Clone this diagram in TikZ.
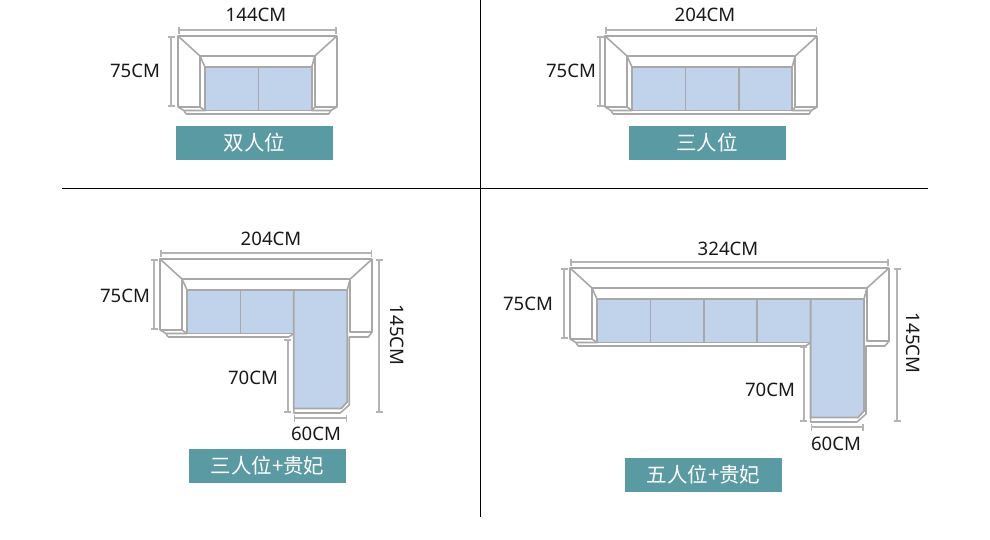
\documentclass[tikz,border=0pt]{standalone}
\usepackage{fontspec}
\setmainfont{Noto Sans}
\newfontfamily\cjk{Noto Sans CJK SC}
\usetikzlibrary{calc}
\usetikzlibrary{arrows.meta}
\definecolor{SofaLine}{HTML}{A8A8A8}
\definecolor{SofaSeat}{HTML}{C0D3EB}
\definecolor{DimLine}{HTML}{B4B4B4}
\definecolor{LabelTeal}{HTML}{5A9AA3}
\tikzset{
	sofaline/.style={SofaLine,line width=1.6pt,line join=round},
	seatbox/.style={draw=SofaLine,fill=SofaSeat,line width=1.8pt},
	dimline/.style={DimLine,line width=2pt,{Bar[width=7pt,line width=1.6pt]}-{Bar[width=7pt,line width=1.6pt]}},
	dimtext/.style={inner sep=0,text=black!90,font=\fontsize{18.6}{20}\selectfont},
	seatlabel/.style={fill=LabelTeal,text=white,inner sep=0,minimum width=157pt,minimum height=34pt,font=\fontsize{20.5}{22}\selectfont\cjk}
}
% back, arms and seat row shared by both sofas: #1 name, #2 x, #3 y, #4 seats
\newcommand\SofaBack[4]{
	\pgfmathsetmacro\SeatW{53.4}
	\pgfmathsetmacro\SofaR{#2+52+\SeatW*#4}
	\pgfmathsetmacro\SeatL{#2+27}
	\pgfmathsetmacro\SeatR{\SeatL+\SeatW*#4}
	\pgfmathsetmacro\InL{#2+22}
	\pgfmathsetmacro\InR{\SofaR-22}
	\pgfmathsetmacro\BackY{#3+20}
	\pgfmathsetmacro\SeatY{#3+31}
	\pgfmathsetmacro\ArmY{#3+71}
	\pgfmathsetmacro\FootY{#3+74.5}
	\pgfmathsetmacro\BaseY{#3+78}
	
	\coordinate (#1NW) at (#2,#3);
	\coordinate (#1NE) at (\SofaR,#3);
	\coordinate (#1SW) at (#2,\ArmY);
	
	\draw[sofaline] (#2,\ArmY) -- (#1NW) -- (#1NE);
	\draw[sofaline] (#1NW) -- (\InL,\BackY) -- (\InR,\BackY) -- (#1NE);
	\draw[sofaline] (\InL,\ArmY) -- (\InL,\BackY) -- (\SeatL,\SeatY);
	\draw[sofaline] (\InR,\BackY) -- (\SeatR,\SeatY);
	\draw[sofaline] (#1SW) -- (\InL,\ArmY) -- (\SeatL,\FootY);
	\draw[sofaline] (#1SW) -- ({#2+6},\FootY) -- (\SeatL,\FootY);
	\draw[sofaline] ({#2+6},\FootY) -- ({#2+8},\BaseY);
}
% two or three seats, straight base
\newcommand\StraightSofa[4]{
	\SofaBack{#1}{#2}{#3}{#4}
	\draw[sofaline] (#1NE) -- (\SofaR,\ArmY) -- (\InR,\ArmY) -- (\InR,\BackY);
	\draw[sofaline] (\InR,\ArmY) -- (\SeatR,\FootY) -- ({\SofaR-6},\FootY) -- (\SofaR,\ArmY);
	\draw[sofaline] ({#2+8},\BaseY) -- ({\SofaR-8},\BaseY) -- ({\SofaR-6},\FootY);
	\foreach \seat in {1,...,#4}{
		\draw[seatbox] ({\SeatL+(\seat-1)*\SeatW},\SeatY) rectangle ({\SeatL+\seat*\SeatW},\FootY);
	}
}
% seat row with a long chaise as the last seat
\newcommand\ChaiseSofa[4]{
	\SofaBack{#1}{#2}{#3}{#4}
	\pgfmathsetmacro\ChaiseL{\SeatR-\SeatW}
	\pgfmathsetmacro\ChaiseY{#3+149.5}
	\pgfmathsetmacro\ChaiseB{#3+154}
	\coordinate (#1CW) at (\ChaiseL,\ChaiseB);
	\coordinate (#1CE) at (\SeatR,\ChaiseB);
	
	\draw[sofaline] (#1NE) -- (\SofaR,{#3+73}) -- (\InR,{#3+73}) -- (\InR,\BackY);
	\draw[sofaline] (\SofaR,{#3+73}) -- ({\SofaR-4},\BaseY) -- ({\SeatR+2},\BaseY) -- ({\SeatR+2},{#3+146}) -- ({\SeatR-7},\ChaiseB) -- (\ChaiseL,\ChaiseB) -- (\ChaiseL,\ChaiseY);
	\draw[sofaline] ({#2+8},\BaseY) -- ({\ChaiseL-5},\BaseY) -- (\ChaiseL,\FootY);
	\pgfmathtruncatemacro\SeatN{#4-1}
	\foreach \seat in {1,...,\SeatN}{
		\draw[seatbox] ({\SeatL+(\seat-1)*\SeatW},\SeatY) rectangle ({\SeatL+\seat*\SeatW},\FootY);
	}
	\draw[seatbox] (\ChaiseL,\SeatY) -- (\SeatR,\SeatY) -- (\SeatR,{#3+143}) -- ({\SeatR-6},\ChaiseY) -- (\ChaiseL,\ChaiseY) -- cycle;
}
\begin{document}
\begin{tikzpicture}[x=1pt,y=-1pt]
	\useasboundingbox (0,0) rectangle (990,539);
	
	%% DIVIDERS
	\coordinate (DivTop) at (480,0);
	\coordinate (DivBot) at (480,517);
	\coordinate (DivLeft) at (62,188);
	\coordinate (DivRight) at (928,188);
	\draw[black,line width=0.9pt] (DivTop) -- (DivBot);
	\draw[black,line width=0.9pt] (DivLeft) -- (DivRight);
	
	%% TWO SEATS
	\StraightSofa{a}{178}{36}{2}
	\draw[dimline] ([yshift=6pt]aNW) -- ([yshift=6pt]aNE);
	\draw[dimline] ([xshift=-7pt]aNW) -- ([xshift=-7pt]aSW);
	\node[dimtext] (aWidth) at (256,15) {144CM};
	\node[dimtext] (aDepth) at (135,71) {75CM};
	\node[seatlabel] (aLabel) at (254.5,143) {双人位};
	
	%% THREE SEATS
	\StraightSofa{b}{605}{36}{3}
	\draw[dimline] ([yshift=6pt]bNW) -- ([yshift=6pt]bNE);
	\draw[dimline] ([xshift=-5pt]bNW) -- ([xshift=-5pt]bSW);
	\node[dimtext] (bWidth) at (705,15) {204CM};
	\node[dimtext] (bDepth) at (571,71) {75CM};
	\node[seatlabel] (bLabel) at (707,143) {三人位};
	
	%% THREE SEATS WITH CHAISE
	\ChaiseSofa{c}{160}{259}{3}
	\coordinate (cEast) at ($(cNE)+(7,0)$);
	\draw[dimline] ([yshift=6pt]cNW) -- ([yshift=6pt]cNE);
	\draw[dimline] ([xshift=-6pt]cNW) -- ([xshift=-6pt]cSW);
	\draw[dimline] (cEast) -- (cEast|-cCE);
	\draw[dimline] ([xshift=-6pt,yshift=74pt]cCW) -- ([xshift=-6pt]cCW);
	\draw[dimline] ([yshift=-5pt]cCW) -- ([yshift=-5pt]cCE);
	\node[dimtext] (cWidth) at (271,239) {204CM};
	\node[dimtext] (cDepth) at (125,296) {75CM};
	\node[dimtext] (cArm) at (253,378) {70CM};
	\node[dimtext] (cChaise) at (316,434) {60CM};
	\node[dimtext,rotate=-90] (cLong) at (397,335) {145CM};
	\node[seatlabel] (cLabel) at (267.5,466) {三人位+贵妃};
	
	%% FIVE SEATS WITH CHAISE
	\ChaiseSofa{d}{570}{268}{5}
	\coordinate (dEast) at ($(dNE)+(8,0)$);
	\draw[dimline] ([yshift=6pt]dNW) -- ([yshift=6pt]dNE);
	\draw[dimline] ([xshift=-6pt]dNW) -- ([xshift=-6pt]dSW);
	\draw[dimline] (dEast) -- (dEast|-dCE);
	\draw[dimline] ([xshift=-7pt,yshift=76pt]dCW) -- ([xshift=-7pt]dCW);
	\draw[dimline] ([yshift=-5pt]dCW) -- ([yshift=-5pt]dCE);
	\node[dimtext] (dWidth) at (728,249) {324CM};
	\node[dimtext] (dDepth) at (528,304) {75CM};
	\node[dimtext] (dArm) at (770,390) {70CM};
	\node[dimtext] (dChaise) at (836,444) {60CM};
	\node[dimtext,rotate=-90] (dLong) at (913,343) {145CM};
	\node[seatlabel] (dLabel) at (703.5,475) {五人位+贵妃};
\end{tikzpicture}
\end{document}
